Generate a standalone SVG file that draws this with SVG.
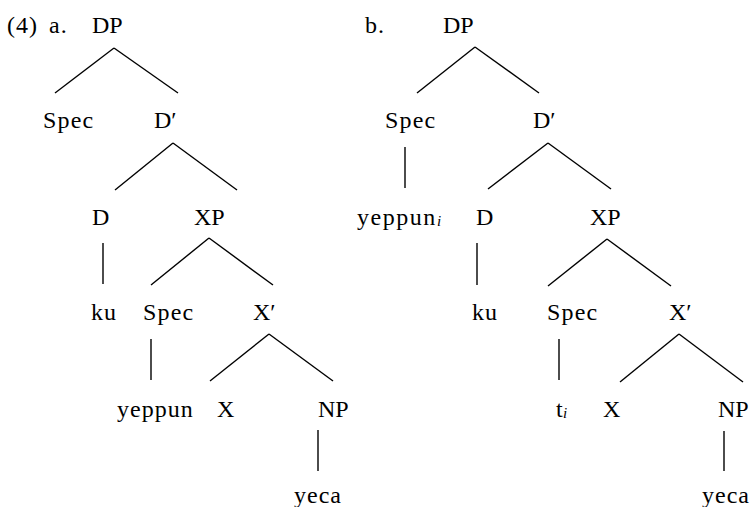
<svg xmlns="http://www.w3.org/2000/svg" width="752" height="507" viewBox="0 0 752 507">
<style>
.e line{stroke:#000;stroke-width:1.4;fill:none}
</style>
<rect width="752" height="507" fill="#fff"/>
<g id="labels">
<text x="7" y="33" font-family="Liberation Serif" font-size="24" letter-spacing="1">(4)</text>
<text x="49" y="33" font-family="Liberation Serif" font-size="24" letter-spacing="1">a.</text>
<text x="365" y="33" font-family="Liberation Serif" font-size="24" letter-spacing="1">b.</text>
</g>
<g id="a-DP"><text x="92" y="33" font-family="Liberation Serif" font-size="24">DP</text></g>
<g id="a-Spec"><text x="43" y="128" font-family="Liberation Serif" font-size="24" letter-spacing="1.2">Spec</text></g>
<g id="a-Dbar"><text x="154" y="128" font-family="Liberation Serif" font-size="24">D′</text></g>
<g id="a-D"><text x="92" y="225" font-family="Liberation Serif" font-size="24">D</text></g>
<g id="a-XP"><text x="194" y="225" font-family="Liberation Serif" font-size="24">XP</text></g>
<g id="a-ku"><text x="91" y="320" font-family="Liberation Serif" font-size="24" letter-spacing="1">ku</text></g>
<g id="a-Spec2"><text x="143" y="320" font-family="Liberation Serif" font-size="24" letter-spacing="1.2">Spec</text></g>
<g id="a-Xbar"><text x="253" y="320" font-family="Liberation Serif" font-size="24">X′</text></g>
<g id="a-yeppun"><text x="117" y="417" font-family="Liberation Serif" font-size="24" letter-spacing="1">yeppun</text></g>
<g id="a-X"><text x="217" y="417" font-family="Liberation Serif" font-size="24">X</text></g>
<g id="a-NP"><text x="318" y="417" font-family="Liberation Serif" font-size="24">NP</text></g>
<g id="a-yeca"><text x="294" y="503" font-family="Liberation Serif" font-size="24" letter-spacing="1">yeca</text></g>
<g id="b-DP"><text x="443" y="33" font-family="Liberation Serif" font-size="24">DP</text></g>
<g id="b-Spec"><text x="385" y="128" font-family="Liberation Serif" font-size="24" letter-spacing="1.2">Spec</text></g>
<g id="b-Dbar"><text x="533" y="128" font-family="Liberation Serif" font-size="24">D′</text></g>
<g id="b-yeppun"><text x="357" y="225" font-family="Liberation Serif" font-size="24" letter-spacing="1.5">yeppun</text><text x="437" y="226" font-family="Liberation Serif" font-size="15" font-style="italic">i</text></g>
<g id="b-D"><text x="476" y="225" font-family="Liberation Serif" font-size="24">D</text></g>
<g id="b-XP"><text x="590" y="225" font-family="Liberation Serif" font-size="24">XP</text></g>
<g id="b-ku"><text x="472" y="320" font-family="Liberation Serif" font-size="24" letter-spacing="1">ku</text></g>
<g id="b-Spec2"><text x="547" y="320" font-family="Liberation Serif" font-size="24" letter-spacing="1.2">Spec</text></g>
<g id="b-Xbar"><text x="669" y="320" font-family="Liberation Serif" font-size="24">X′</text></g>
<g id="b-t"><text x="556" y="417" font-family="Liberation Serif" font-size="24">t</text><text x="563" y="418" font-family="Liberation Serif" font-size="15" font-style="italic">i</text></g>
<g id="b-X"><text x="603" y="417" font-family="Liberation Serif" font-size="24">X</text></g>
<g id="b-NP"><text x="718" y="417" font-family="Liberation Serif" font-size="24">NP</text></g>
<g id="b-yeca"><text x="702" y="503" font-family="Liberation Serif" font-size="24" letter-spacing="1">yeca</text></g>
<g id="connectors" class="e">
<line x1="114" y1="48" x2="55" y2="93"/><line x1="114" y1="48" x2="178" y2="93"/>
<line x1="173" y1="143" x2="115" y2="190"/><line x1="173" y1="143" x2="237" y2="190"/>
<line x1="103" y1="243" x2="103" y2="284"/>
<line x1="209" y1="238" x2="151" y2="285"/><line x1="209" y1="238" x2="273" y2="285"/>
<line x1="151" y1="339" x2="151" y2="380"/>
<line x1="269" y1="334" x2="210" y2="381"/><line x1="269" y1="334" x2="333" y2="381"/>
<line x1="318" y1="430" x2="318" y2="471"/>
<line x1="475" y1="47" x2="417" y2="93"/><line x1="475" y1="47" x2="539" y2="93"/>
<line x1="405" y1="147" x2="405" y2="188"/>
<line x1="548" y1="143" x2="488" y2="189"/><line x1="548" y1="143" x2="611" y2="189"/>
<line x1="477" y1="243" x2="477" y2="285"/>
<line x1="607" y1="239" x2="548" y2="286"/><line x1="607" y1="239" x2="671" y2="286"/>
<line x1="559" y1="339" x2="559" y2="380"/>
<line x1="679" y1="334" x2="620" y2="382"/><line x1="679" y1="334" x2="743" y2="382"/>
<line x1="724" y1="431" x2="724" y2="471"/>
</g>
</svg>
